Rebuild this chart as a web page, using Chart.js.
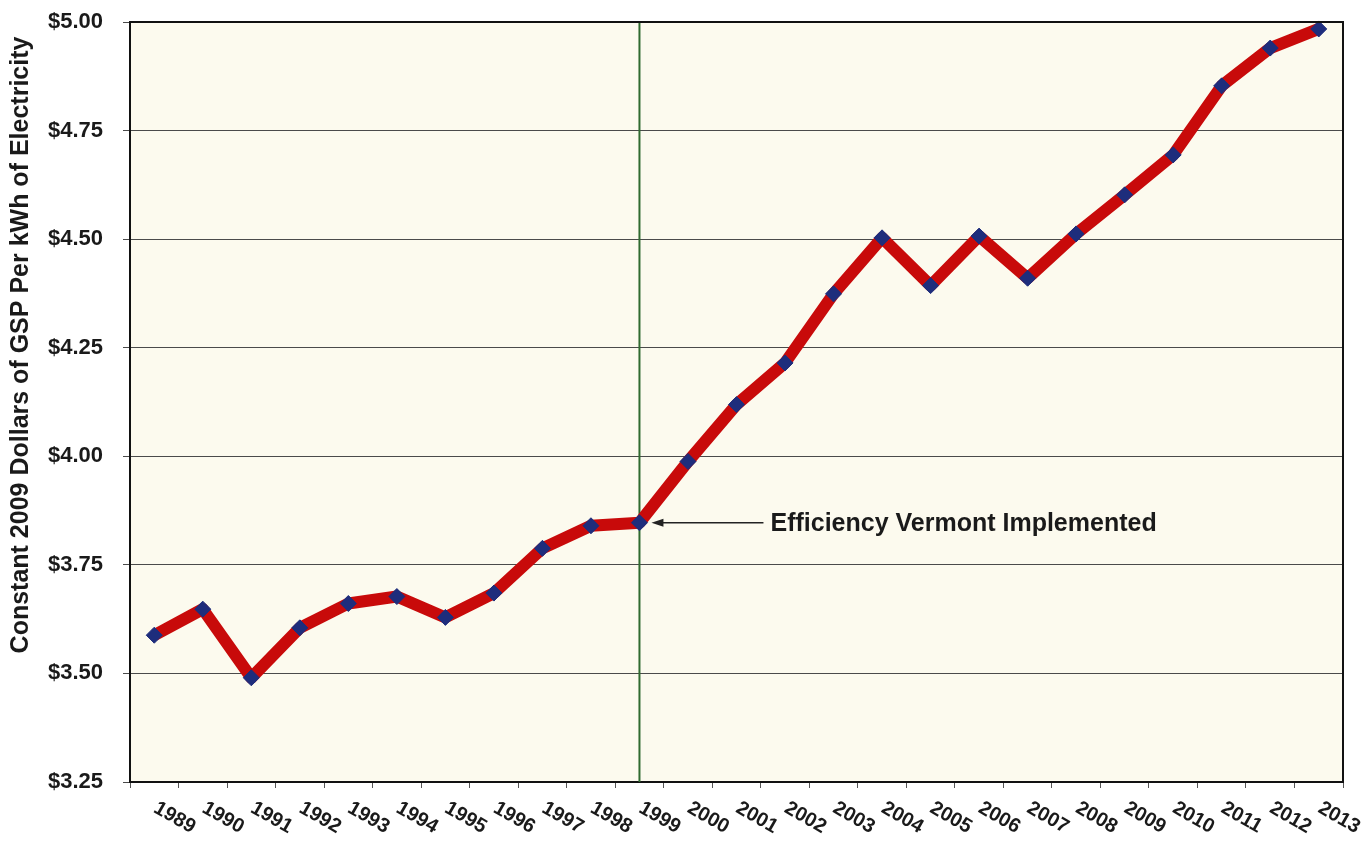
<!DOCTYPE html>
<html>
<head>
<meta charset="utf-8">
<script src="https://cdn.jsdelivr.net/npm/chart.js@4"></script>
<style>
  html, body { margin: 0; padding: 0; background: #ffffff; }
  #wrap { width: 1371px; height: 844px; position: relative; }
</style>
</head>
<body>
<div id="wrap"><canvas id="gspChart" width="1371" height="844"></canvas></div>
<script>
const years = ['1989','1990','1991','1992','1993','1994','1995','1996','1997','1998','1999','2000',
  '2001','2002','2003','2004','2005','2006','2007','2008','2009','2010','2011','2012','2013'];
const gspPerKwh = [3.588, 3.648, 3.49, 3.605, 3.661, 3.677, 3.629, 3.685, 3.788, 3.840, 3.847, 3.988,
  4.119, 4.215, 4.374, 4.503, 4.393, 4.507, 4.41, 4.512, 4.602, 4.694, 4.853, 4.940, 4.984];
const yTicks = [3.25, 3.50, 3.75, 4.00, 4.25, 4.50, 4.75, 5.00];
const yTitle = 'Constant 2009 Dollars of GSP Per kWh of Electricity';
const markerYear = '1999';
const markerText = 'Efficiency Vermont Implemented';

const FONT = '"Liberation Sans", Arial, sans-serif';

// cream plot background + frame
const plotBack = {
  id: 'plotBack',
  beforeDraw(chart) {
    const { ctx, chartArea: a } = chart;
    ctx.save();
    ctx.fillStyle = '#fcfaee';
    ctx.fillRect(a.left, a.top, a.right - a.left, a.bottom - a.top);
    ctx.restore();
  },
  afterDraw(chart) {
    const { ctx, chartArea: a } = chart;
    ctx.save();
    ctx.strokeStyle = '#111';
    ctx.lineWidth = 2;
    ctx.beginPath();
    ctx.moveTo(a.left, a.top); ctx.lineTo(a.right, a.top); ctx.lineTo(a.right, a.bottom);
    ctx.stroke();
    // y title, sits above centre in the original
    ctx.font = 'bold 25px ' + FONT;
    ctx.fillStyle = '#1a1a1a';
    ctx.textAlign = 'center';
    ctx.textBaseline = 'middle';
    ctx.translate(21, 345);
    ctx.rotate(-Math.PI / 2);
    ctx.fillText(yTitle, 0, 0);
    ctx.restore();
  }
};

// green vertical line at the program start (behind the series)
const startLine = {
  id: 'startLine',
  beforeDatasetsDraw(chart) {
    const { ctx, chartArea: a, scales } = chart;
    const x = scales.x.getPixelForValue(years.indexOf(markerYear));
    ctx.save();
    ctx.strokeStyle = '#2f6a2f';
    ctx.lineWidth = 2;
    ctx.beginPath();
    ctx.moveTo(x, a.top); ctx.lineTo(x, a.bottom);
    ctx.stroke();
    ctx.restore();
  },
  afterDatasetsDraw(chart) {
    const { ctx } = chart;
    const pt = chart.getDatasetMeta(0).data[years.indexOf(markerYear)];
    const head = pt.x + 12, tail = pt.x + 124, y = pt.y;
    ctx.save();
    ctx.strokeStyle = '#222';
    ctx.fillStyle = '#222';
    ctx.lineWidth = 1.5;
    ctx.beginPath();
    ctx.moveTo(tail, y); ctx.lineTo(head + 6, y);
    ctx.stroke();
    ctx.beginPath();
    ctx.moveTo(head, y); ctx.lineTo(head + 12, y - 4); ctx.lineTo(head + 12, y + 4);
    ctx.closePath(); ctx.fill();
    ctx.font = 'bold 25px ' + FONT;
    ctx.fillStyle = '#1a1a1a';
    ctx.textAlign = 'left';
    ctx.textBaseline = 'middle';
    ctx.fillText(markerText, tail + 7, y + 1);
    ctx.restore();
  }
};

// slanted year labels (clockwise, like the original)
const yearLabels = {
  id: 'yearLabels',
  afterDraw(chart) {
    const { ctx, scales, chartArea: a } = chart;
    ctx.save();
    ctx.font = 'bold 20px ' + FONT;
    ctx.fillStyle = '#1a1a1a';
    ctx.textAlign = 'left';
    ctx.textBaseline = 'top';
    years.forEach((yr, i) => {
      const x = scales.x.getPixelForValue(i);
      ctx.save();
      ctx.translate(x + 6, a.bottom + 16);
      ctx.rotate(30 * Math.PI / 180);
      ctx.fillText(yr, 0, 0);
      ctx.restore();
    });
    ctx.restore();
  }
};

const ctx = document.getElementById('gspChart').getContext('2d');
new Chart(ctx, {
  type: 'line',
  data: {
    labels: years,
    datasets: [{
      data: gspPerKwh,
      borderColor: '#c80a0a',
      borderWidth: 12,
      borderJoinStyle: 'round',
      tension: 0,
      pointStyle: 'rectRot',
      pointRadius: 8,
      pointBackgroundColor: '#1e2d7c',
      pointBorderColor: '#1e2d7c',
      pointBorderWidth: 1,
      clip: false
    }]
  },
  options: {
    responsive: false,
    animation: false,
    layout: { padding: { top: 22, right: 28, left: 0, bottom: 0 } },
    plugins: { legend: { display: false }, tooltip: { enabled: false } },
    scales: {
      x: {
        offset: true,
        afterFit(scale) { scale.height = 62; },
        grid: { display: true, drawOnChartArea: false, drawTicks: true, tickLength: 6, offset: true, color: '#555' },
        border: { display: true, color: '#111', width: 2 },
        ticks: { display: false }
      },
      y: {
        min: 3.25,
        max: 5.00,
        afterFit(scale) { scale.width = 130; scale.paddingTop = 0; scale.paddingBottom = 0; },
        afterBuildTicks(scale) { scale.ticks = yTicks.map(v => ({ value: v })); },
        grid: { color: '#4a4a4a', lineWidth: 1, tickLength: 7 },
        border: { display: true, color: '#111', width: 2 },
        ticks: {
          padding: 20,
          color: '#1a1a1a',
          font: { family: FONT, size: 22, weight: 'bold' },
          callback: v => '$' + Number(v).toFixed(2)
        },
        title: { display: false }
      }
    }
  },
  plugins: [plotBack, startLine, yearLabels]
});
</script>
</body>
</html>
